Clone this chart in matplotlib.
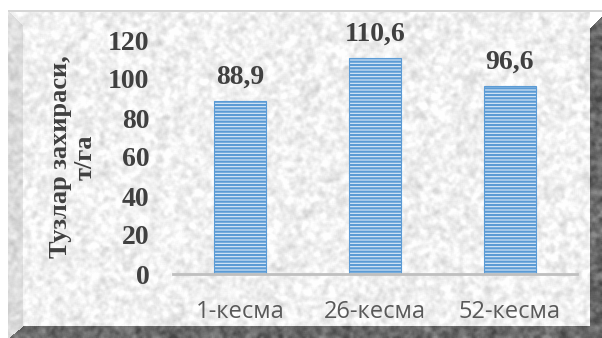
import numpy as np
import matplotlib
matplotlib.use("Agg")
import matplotlib.pyplot as plt

# Data
categories = ["1-кесма", "26-кесма", "52-кесма"]
values = [88.9, 110.6, 96.6]
value_labels = ["88,9", "110,6", "96,6"]
y_ticks = [0, 20, 40, 60, 80, 100, 120]
y_label = "Тузлар захираси,\nт/га"

W, H = 602, 338
DPI = 100

plt.rcParams["hatch.linewidth"] = 1.6


def smooth(a, k):
    """Box-blur a 2D array k times with a 3x3 kernel."""
    for _ in range(k):
        p = np.pad(a, 1, mode="edge")
        a = sum(p[i:i + a.shape[0], j:j + a.shape[1]]
                for i in range(3) for j in range(3)) / 9.0
    return a


def granite(shape, seed):
    rng = np.random.default_rng(seed)
    coarse = smooth(rng.random(shape), 5)
    coarse = (coarse - coarse.mean()) / coarse.std()
    fine = smooth(rng.random(shape), 1)
    fine = (fine - fine.mean()) / fine.std()
    return 0.75 * coarse + 0.25 * fine


# Textured stone frame behind the chart
tex = granite((H, W), 3)
yy, xx = np.mgrid[0:H, 0:W]
img = np.full((H, W), 255.0)

panel = (xx >= 8) & (xx < 590) & (yy >= 11) & (yy < 326)
img[panel] = np.clip(241 + 11 * tex[panel], 200, 254)

left_bevel = (xx >= 8) & (xx < 23) & (yy >= 11 + (xx - 8)) & (yy < 338)
img[left_bevel] = np.clip(220 + 9 * tex[left_bevel], 190, 240)

bottom_band = (yy >= 326) & (xx >= 8) & (yy >= 326 + (23 - xx) * 12 / 15.0)
img[bottom_band] = np.clip(105 + 14 * tex[bottom_band], 70, 140)

right_band = (xx >= 590) & (yy >= 28 - (xx - 590))
img[right_band] = np.clip(102 + 14 * tex[right_band], 70, 140)

top_line = (yy >= 10) & (yy < 12) & (xx >= 8)
img[top_line] = 214

rgb = np.repeat((img / 255.0)[:, :, None], 3, axis=2)

fig = plt.figure(figsize=(W / DPI, H / DPI), dpi=DPI)
bg = fig.add_axes([0, 0, 1, 1])
bg.imshow(rgb, extent=(0, W, H, 0), interpolation="bilinear", aspect="auto")
bg.set_axis_off()

# Chart axes (pixel box: x 173..577, y 40..274)
ax = fig.add_axes([173 / W, 1 - 274 / H, 404 / W, 234 / H])
ax.patch.set_alpha(0)

x = np.arange(len(categories))
ax.bar(x, values, width=0.385, facecolor="#DDEAF7", edgecolor="#5B9BD5",
       linewidth=0.8, hatch="-----", zorder=3)

for xi, v, lab in zip(x, values, value_labels):
    ax.annotate(lab, (xi, v), xytext=(0, 12.5), textcoords="offset points",
                ha="center", va="baseline", fontsize=20, fontweight="bold",
                family="Liberation Serif", color="#404040")

ax.set_xlim(-0.5, len(categories) - 0.5)
ax.set_ylim(0, 120)
ax.set_yticks(y_ticks)
ax.set_yticklabels([str(t) for t in y_ticks], family="Liberation Serif",
                   fontweight="bold", fontsize=20, color="#404040")
ax.set_xticks(x)
ax.set_xticklabels(categories, family="Open Sans", fontsize=17,
                   color="#595959")
ax.tick_params(axis="y", length=0, pad=17)
ax.tick_params(axis="x", length=0, pad=19)

for side in ("left", "right", "top"):
    ax.spines[side].set_visible(False)
ax.spines["bottom"].set_color("#BFBFBF")
ax.spines["bottom"].set_linewidth(2.0)
ax.spines["bottom"].set_zorder(4)

fig.text(73 / W, 1 - 157 / H, y_label, rotation=90, ha="center",
         va="center", multialignment="center", linespacing=1.12,
         family="Liberation Serif", fontweight="bold", fontsize=19,
         color="#404040")

fig.savefig("out.png", dpi=DPI)
